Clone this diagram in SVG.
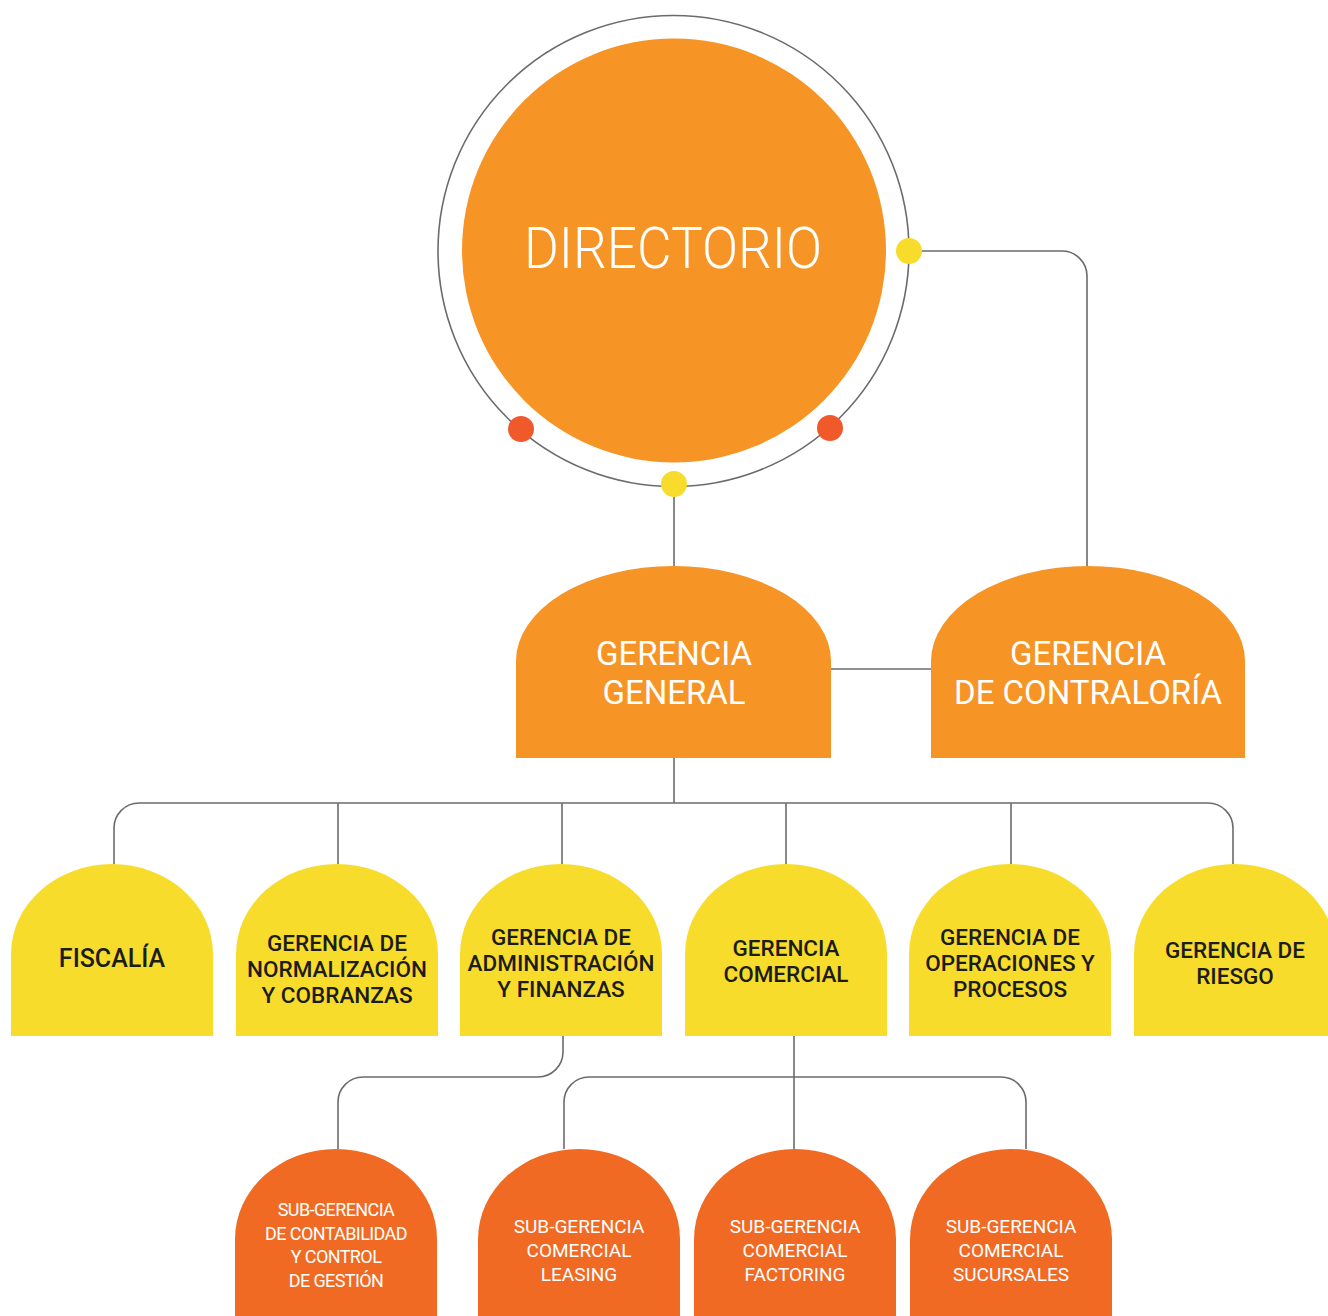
<svg xmlns="http://www.w3.org/2000/svg" width="1328" height="1316" viewBox="0 0 1328 1316">
<style>
.ln{fill:none;stroke:#6b6b6b;stroke-width:1.6}
.or{fill:#F69525}
.ye{fill:#F8DC2B}
.sub{fill:#F06A24}
.t{font-family:Roboto,"Liberation Sans",sans-serif;text-anchor:middle}
.tw{fill:#ffffff}
.tk{fill:#1c1c1c}
.big{font-size:33px}
.mid{font-size:22.5px;font-weight:500}
.sm{font-size:19px}
.smc{font-size:18px;letter-spacing:-0.6px}
.fis{font-size:25px}
</style>
<rect width="1328" height="1316" fill="#ffffff"/>
<g id="connectors">
<circle class="ln" cx="673.5" cy="251" r="235.5"/>
<path class="ln" d="M674,484 V566"/>
<path class="ln" d="M909,251 H1062 A25,25 0 0 1 1087,276 V566"/>
<path class="ln" d="M831,669 H931"/>
<path class="ln" d="M674,758 V803"/>
<path class="ln" d="M114,864 V828 A25,25 0 0 1 139,803 H1208 A25,25 0 0 1 1233,828 V864"/>
<path class="ln" d="M338,803 V864 M562,803 V864 M786,803 V864 M1011,803 V864"/>
<path class="ln" d="M563,1036 V1052 A25,25 0 0 1 538,1077 H363 A25,25 0 0 0 338,1102 V1149"/>
<path class="ln" d="M794,1036 V1149"/>
<path class="ln" d="M564,1149 V1102 A25,25 0 0 1 589,1077 H1001 A25,25 0 0 1 1026,1102 V1149"/>
</g>
<g id="directorio">
<circle class="or" cx="674" cy="250.5" r="212"/>
<text class="t tw" x="673" y="268" font-size="58" font-weight="300" textLength="298" lengthAdjust="spacingAndGlyphs">DIRECTORIO</text>
<circle cx="909" cy="251" r="13" fill="#F8DC2B"/>
<circle cx="674" cy="484" r="13" fill="#F8DC2B"/>
<circle cx="521" cy="429" r="13" fill="#F05A2B"/>
<circle cx="830" cy="428" r="13" fill="#F05A2B"/>
</g>
<g id="gerencia-general">
<path class="or" d="M516,758 V661 A157.5,95 0 0 1 831,661 V758 Z"/>
<text class="t tw big" x="674" y="665">GERENCIA</text>
<text class="t tw big" x="674" y="704">GENERAL</text>
</g>
<g id="gerencia-contraloria">
<path class="or" d="M931,758 V661 A157,95 0 0 1 1245,661 V758 Z"/>
<text class="t tw big" x="1088" y="665">GERENCIA</text>
<text class="t tw big" x="1088" y="704">DE CONTRALORÍA</text>
</g>
<g id="fiscalia">
<path class="ye" d="M11,1036 V954 A101,90 0 0 1 213,954 V1036 Z"/>
<text class="t tk mid fis" x="112" y="967">FISCALÍA</text>
</g>
<g id="normalizacion">
<path class="ye" d="M236,1036 V954 A101,90 0 0 1 438,954 V1036 Z"/>
<text class="t tk mid" x="337" y="951">GERENCIA DE</text>
<text class="t tk mid" x="337" y="977">NORMALIZACIÓN</text>
<text class="t tk mid" x="337" y="1003">Y COBRANZAS</text>
</g>
<g id="administracion">
<path class="ye" d="M460,1036 V954 A101,90 0 0 1 662,954 V1036 Z"/>
<text class="t tk mid" x="561" y="945">GERENCIA DE</text>
<text class="t tk mid" x="561" y="971">ADMINISTRACIÓN</text>
<text class="t tk mid" x="561" y="997">Y FINANZAS</text>
</g>
<g id="comercial">
<path class="ye" d="M685,1036 V954 A101,90 0 0 1 887,954 V1036 Z"/>
<text class="t tk mid" x="786" y="956">GERENCIA</text>
<text class="t tk mid" x="786" y="982">COMERCIAL</text>
</g>
<g id="operaciones">
<path class="ye" d="M909,1036 V954 A101,90 0 0 1 1111,954 V1036 Z"/>
<text class="t tk mid" x="1010" y="945">GERENCIA DE</text>
<text class="t tk mid" x="1010" y="971">OPERACIONES Y</text>
<text class="t tk mid" x="1010" y="997">PROCESOS</text>
</g>
<g id="riesgo">
<path class="ye" d="M1134,1036 V954 A101,90 0 0 1 1336,954 V1036 Z"/>
<text class="t tk mid" x="1235" y="958">GERENCIA DE</text>
<text class="t tk mid" x="1235" y="984">RIESGO</text>
</g>
<g id="sub-contabilidad">
<path class="sub" d="M235,1320 V1239 A101,90 0 0 1 437,1239 V1320 Z"/>
<text class="t tw smc" x="336" y="1216">SUB-GERENCIA</text>
<text class="t tw smc" x="336" y="1240">DE CONTABILIDAD</text>
<text class="t tw smc" x="336" y="1263">Y CONTROL</text>
<text class="t tw smc" x="336" y="1287">DE GESTIÓN</text>
</g>
<g id="sub-leasing">
<path class="sub" d="M478,1320 V1239 A101,90 0 0 1 680,1239 V1320 Z"/>
<text class="t tw sm" x="579" y="1233">SUB-GERENCIA</text>
<text class="t tw sm" x="579" y="1257">COMERCIAL</text>
<text class="t tw sm" x="579" y="1281">LEASING</text>
</g>
<g id="sub-factoring">
<path class="sub" d="M694,1320 V1239 A101,90 0 0 1 896,1239 V1320 Z"/>
<text class="t tw sm" x="795" y="1233">SUB-GERENCIA</text>
<text class="t tw sm" x="795" y="1257">COMERCIAL</text>
<text class="t tw sm" x="795" y="1281">FACTORING</text>
</g>
<g id="sub-sucursales">
<path class="sub" d="M910,1320 V1239 A101,90 0 0 1 1112,1239 V1320 Z"/>
<text class="t tw sm" x="1011" y="1233">SUB-GERENCIA</text>
<text class="t tw sm" x="1011" y="1257">COMERCIAL</text>
<text class="t tw sm" x="1011" y="1281">SUCURSALES</text>
</g>
</svg>
